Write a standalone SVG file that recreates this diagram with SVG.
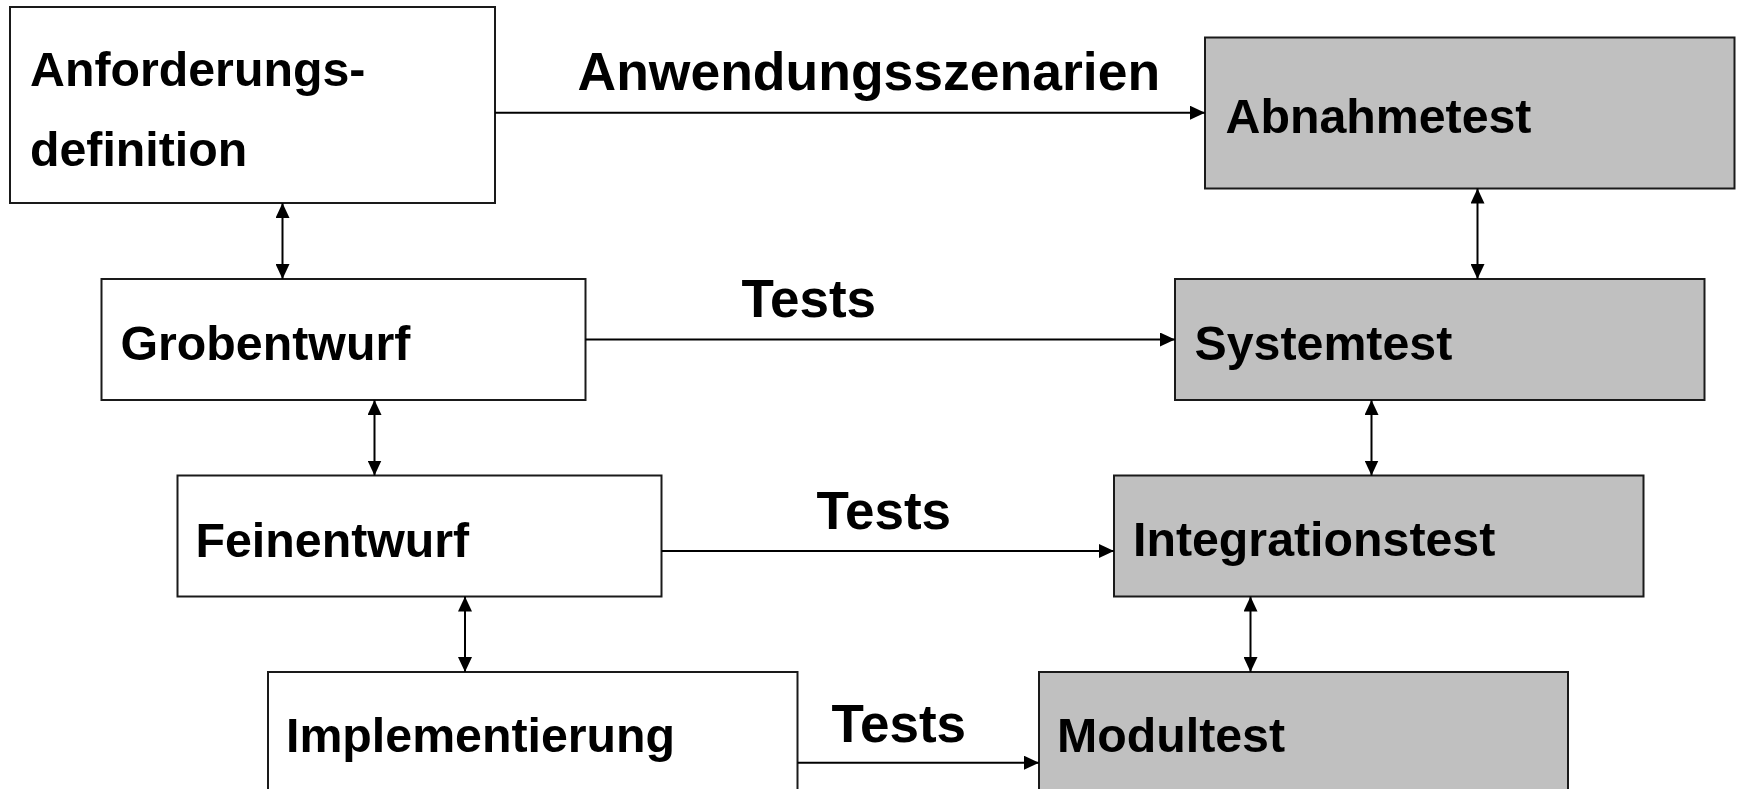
<svg xmlns="http://www.w3.org/2000/svg" width="1739" height="789" viewBox="0 0 1739 789">
  <style>
    .box { fill: #ffffff; stroke: #1a1a1a; stroke-width: 2; }
    .test { fill: #c0c0c0; stroke: #1a1a1a; stroke-width: 2; }
    .nt { font-family: "Liberation Sans", Arial, sans-serif; font-weight: bold; font-size: 48.3px; fill: #000; }
    .lbl { font-family: "Liberation Sans", Arial, sans-serif; font-weight: bold; font-size: 53px; fill: #000; }
    .con { stroke: #000; stroke-width: 2; fill: none; }
  </style>
  <defs>
    <marker id="ah" markerUnits="userSpaceOnUse" markerWidth="15" markerHeight="14" viewBox="0 0 15 14" refX="15" refY="7" orient="auto-start-reverse">
      <path d="M0,0 L15,7 L0,14 z" fill="#000"/>
    </marker>
  </defs>
  <rect width="1739" height="789" fill="#ffffff"/>

  <g id="anforderungsdefinition">
    <rect class="box" x="10" y="7" width="485" height="196"/>
    <text class="nt" x="30" y="86">Anforderungs-</text>
    <text class="nt" x="30" y="166">definition</text>
  </g>
  <g id="grobentwurf">
    <rect class="box" x="101.5" y="279" width="484" height="121"/>
    <text class="nt" x="120.5" y="359.5">Grobentwurf</text>
  </g>
  <g id="feinentwurf">
    <rect class="box" x="177.5" y="475.5" width="484" height="121"/>
    <text class="nt" x="195.5" y="556.5">Feinentwurf</text>
  </g>
  <g id="implementierung">
    <rect class="box" x="268" y="672" width="529.5" height="140"/>
    <text class="nt" x="286" y="752">Implementierung</text>
  </g>
  <g id="abnahmetest">
    <rect class="test" x="1205" y="37.5" width="529.5" height="151"/>
    <text class="nt" x="1225.5" y="133">Abnahmetest</text>
  </g>
  <g id="systemtest">
    <rect class="test" x="1175" y="279" width="529.5" height="121"/>
    <text class="nt" x="1194.5" y="359.5">Systemtest</text>
  </g>
  <g id="integrationstest">
    <rect class="test" x="1114" y="475.5" width="529.5" height="121"/>
    <text class="nt" x="1133" y="556">Integrationstest</text>
  </g>
  <g id="modultest">
    <rect class="test" x="1039" y="672" width="529" height="140"/>
    <text class="nt" x="1057" y="752">Modultest</text>
  </g>

  <g id="connectors">
    <line class="con" x1="495" y1="112.7" x2="1205" y2="112.7" marker-end="url(#ah)"/>
    <line class="con" x1="585.5" y1="339.5" x2="1175" y2="339.5" marker-end="url(#ah)"/>
    <line class="con" x1="661.5" y1="551" x2="1114" y2="551" marker-end="url(#ah)"/>
    <line class="con" x1="797.5" y1="762.7" x2="1039" y2="762.7" marker-end="url(#ah)"/>

    <line class="con" x1="282.5" y1="203" x2="282.5" y2="279" marker-start="url(#ah)" marker-end="url(#ah)"/>
    <line class="con" x1="374.5" y1="400" x2="374.5" y2="475.5" marker-start="url(#ah)" marker-end="url(#ah)"/>
    <line class="con" x1="465" y1="596.5" x2="465" y2="672" marker-start="url(#ah)" marker-end="url(#ah)"/>
    <line class="con" x1="1477.5" y1="188.5" x2="1477.5" y2="279" marker-start="url(#ah)" marker-end="url(#ah)"/>
    <line class="con" x1="1371.5" y1="400" x2="1371.5" y2="475.5" marker-start="url(#ah)" marker-end="url(#ah)"/>
    <line class="con" x1="1250.5" y1="596.5" x2="1250.5" y2="672" marker-start="url(#ah)" marker-end="url(#ah)"/>

    <text class="lbl" x="577.5" y="90" style="font-size:53.5px">Anwendungsszenarien</text>
    <text class="lbl" x="741.5" y="316.7">Tests</text>
    <text class="lbl" x="816.5" y="529.3">Tests</text>
    <text class="lbl" x="831.5" y="741.7">Tests</text>
  </g>
</svg>
